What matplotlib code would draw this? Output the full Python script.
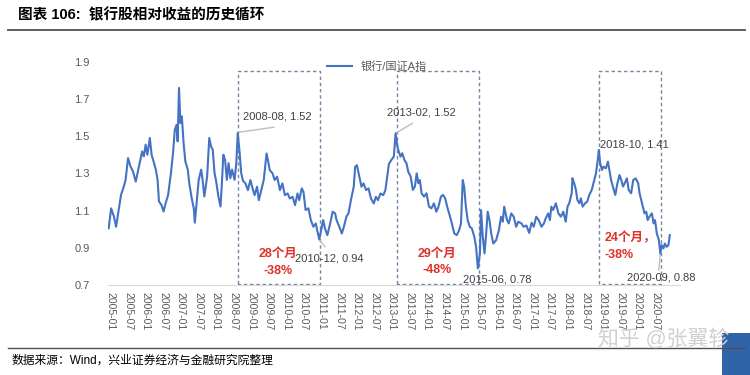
import matplotlib.pyplot as plt
import matplotlib.lines as mlines
import matplotlib.patches as mpatches

plt.rcParams['font.family'] = ['Liberation Sans', 'Noto Sans CJK SC']

# bank index / CSI A-share index (decimal year, ratio)
year = [2004.95, 2005.02, 2005.10, 2005.16, 2005.24, 2005.30, 2005.38, 2005.43, 2005.50, 2005.57,
        2005.64, 2005.72, 2005.78, 2005.86, 2005.90, 2005.95, 2006.00, 2006.05, 2006.12, 2006.17,
        2006.24, 2006.29, 2006.34, 2006.38, 2006.45, 2006.51, 2006.57, 2006.64, 2006.72, 2006.78,
        2006.83, 2006.88, 2006.91, 2006.95, 2006.99, 2007.03, 2007.08, 2007.13, 2007.20, 2007.24,
        2007.31, 2007.37, 2007.40, 2007.45, 2007.51, 2007.58, 2007.62, 2007.67, 2007.75, 2007.81,
        2007.86, 2007.91, 2007.96, 2008.00, 2008.07, 2008.13, 2008.17, 2008.21, 2008.26, 2008.31,
        2008.36, 2008.41, 2008.46, 2008.53, 2008.58, 2008.62, 2008.67, 2008.72, 2008.77, 2008.84,
        2008.91, 2008.98, 2009.03, 2009.10, 2009.17, 2009.22, 2009.29, 2009.36, 2009.44, 2009.48,
        2009.53, 2009.61, 2009.67, 2009.74, 2009.82, 2009.89, 2009.96, 2010.04, 2010.10, 2010.18,
        2010.25, 2010.32, 2010.37, 2010.44, 2010.49, 2010.55, 2010.63, 2010.70, 2010.77, 2010.84,
        2010.90, 2010.94, 2011.01, 2011.05, 2011.10, 2011.17, 2011.25, 2011.32, 2011.39, 2011.43,
        2011.51, 2011.58, 2011.64, 2011.71, 2011.77, 2011.84, 2011.92, 2011.96, 2012.01, 2012.08,
        2012.14, 2012.20, 2012.27, 2012.34, 2012.41, 2012.49, 2012.55, 2012.61, 2012.68, 2012.76,
        2012.82, 2012.87, 2012.92, 2012.99, 2013.06, 2013.11, 2013.16, 2013.20, 2013.25, 2013.30,
        2013.36, 2013.42, 2013.47, 2013.54, 2013.60, 2013.66, 2013.71, 2013.76, 2013.80, 2013.85,
        2013.92, 2013.99, 2014.06, 2014.13, 2014.20, 2014.27, 2014.33, 2014.40, 2014.46, 2014.52,
        2014.59, 2014.66, 2014.71, 2014.78, 2014.85, 2014.92, 2014.97, 2015.02, 2015.06, 2015.11,
        2015.16, 2015.22, 2015.28, 2015.35, 2015.40, 2015.45, 2015.51, 2015.54, 2015.59, 2015.64,
        2015.68, 2015.73, 2015.78, 2015.83, 2015.89, 2015.97, 2016.05, 2016.11, 2016.16, 2016.20,
        2016.28, 2016.33, 2016.40, 2016.47, 2016.54, 2016.60, 2016.69, 2016.75, 2016.83, 2016.91,
        2016.98, 2017.04, 2017.11, 2017.18, 2017.26, 2017.33, 2017.38, 2017.45, 2017.50, 2017.54,
        2017.59, 2017.67, 2017.74, 2017.81, 2017.88, 2017.95, 2018.00, 2018.05, 2018.12, 2018.14,
        2018.19, 2018.24, 2018.28, 2018.34, 2018.38, 2018.43, 2018.50, 2018.56, 2018.62, 2018.69,
        2018.75, 2018.81, 2018.86, 2018.89, 2018.93, 2018.98, 2019.02, 2019.09, 2019.15, 2019.19,
        2019.24, 2019.29, 2019.36, 2019.42, 2019.48, 2019.53, 2019.58, 2019.65, 2019.69, 2019.74,
        2019.81, 2019.87, 2019.94, 2020.01, 2020.05, 2020.12, 2020.19, 2020.24, 2020.28, 2020.33,
        2020.40, 2020.45, 2020.49, 2020.54, 2020.60, 2020.64, 2020.68, 2020.73, 2020.77, 2020.82,
        2020.87, 2020.91]
ratio = [1.005, 1.112, 1.067, 1.013, 1.112, 1.184, 1.229, 1.265, 1.382, 1.337,
         1.310, 1.256, 1.310, 1.382, 1.418, 1.391, 1.454, 1.400, 1.490, 1.400,
         1.355, 1.320, 1.265, 1.149, 1.130, 1.095, 1.140, 1.184, 1.301, 1.409,
         1.534, 1.561, 1.472, 1.759, 1.570, 1.606, 1.463, 1.364, 1.320, 1.248,
         1.167, 1.112, 1.035, 1.140, 1.265, 1.320, 1.265, 1.176, 1.283, 1.490,
         1.445, 1.427, 1.301, 1.265, 1.176, 1.122, 1.248, 1.400, 1.373, 1.265,
         1.355, 1.274, 1.320, 1.265, 1.355, 1.516, 1.420, 1.300, 1.260, 1.246,
         1.210, 1.264, 1.228, 1.183, 1.228, 1.156, 1.210, 1.264, 1.407, 1.371,
         1.318, 1.300, 1.264, 1.282, 1.210, 1.246, 1.183, 1.192, 1.165, 1.174,
         1.129, 1.192, 1.156, 1.219, 1.201, 1.103, 1.112, 1.049, 1.013, 1.031,
         0.977, 0.945, 1.013, 1.049, 1.004, 0.968, 1.031, 1.094, 1.085, 1.049,
         1.013, 0.977, 1.013, 1.067, 1.085, 1.156, 1.228, 1.335, 1.344, 1.282,
         1.228, 1.246, 1.210, 1.219, 1.165, 1.138, 1.174, 1.156, 1.192, 1.183,
         1.210, 1.282, 1.350, 1.372, 1.390, 1.515, 1.444, 1.417, 1.390, 1.408,
         1.372, 1.354, 1.309, 1.282, 1.211, 1.229, 1.300, 1.247, 1.264, 1.193,
         1.175, 1.193, 1.121, 1.112, 1.139, 1.094, 1.121, 1.175, 1.184, 1.166,
         1.112, 1.067, 1.031, 0.977, 0.968, 0.995, 1.031, 1.264, 1.229, 1.121,
         1.049, 1.013, 1.004, 0.959, 0.905, 0.789, 0.870, 1.103, 0.959, 0.870,
         0.959, 1.094, 1.049, 0.977, 0.923, 0.941, 0.995, 1.067, 1.040, 1.121,
         1.049, 1.031, 1.085, 1.067, 1.013, 1.040, 1.031, 1.013, 1.020, 0.980,
         1.035, 1.013, 1.067, 1.049, 1.013, 1.031, 1.058, 1.085, 1.049, 1.121,
         1.103, 1.139, 1.085, 1.067, 1.094, 1.040, 1.121, 1.139, 1.193, 1.274,
         1.247, 1.211, 1.157, 1.139, 1.166, 1.121, 1.139, 1.148, 1.184, 1.211,
         1.256, 1.300, 1.372, 1.426, 1.354, 1.318, 1.336, 1.327, 1.363, 1.318,
         1.264, 1.229, 1.184, 1.247, 1.291, 1.264, 1.229, 1.256, 1.273, 1.211,
         1.193, 1.264, 1.273, 1.247, 1.193, 1.139, 1.085, 1.094, 1.049, 1.067,
         1.085, 1.031, 1.049, 0.977, 0.941, 0.870, 0.914, 0.897, 0.923, 0.905,
         0.914, 0.968]

xtick_labels = ['2005-01', '2005-07', '2006-01', '2006-07', '2007-01', '2007-07', '2008-01', '2008-07',
                '2009-01', '2009-07', '2010-01', '2010-07', '2011-01', '2011-07', '2012-01', '2012-07',
                '2013-01', '2013-07', '2014-01', '2014-07', '2015-01', '2015-07', '2016-01', '2016-07',
                '2017-01', '2017-07', '2018-01', '2018-07', '2019-01', '2019-07', '2020-01', '2020-07']
xtick_pos = [int(s[:4]) + (int(s[5:]) - 1) / 12 for s in xtick_labels]
yticks = [0.7, 0.9, 1.1, 1.3, 1.5, 1.7, 1.9]

# down cycles: peak -> trough
peak_year = [2008.62, 2013.16, 2018.90]
trough_year = [2010.96, 2015.47, 2020.67]
box_top = 1.85
cycle_text = ['28个月\n-38%', '29个月\n-48%', '24个月，\n-38%']

blue = '#4472C4'
grey = '#595959'
box_col = '#7588a3'

fig = plt.figure(figsize=(7.5, 3.75), dpi=100)
ax = fig.add_axes([108/750, 1 - 285/375, 572/750, 223.3/375])

ax.plot(year, ratio, color=blue, lw=1.5, label='银行/国证A指', zorder=3)

for x0, x1 in zip(peak_year, trough_year):
    ax.plot([x0, x0, x1, x1, x0], [0.705, box_top, box_top, 0.705, 0.705],
            color=box_col, lw=1, ls=(0, (2.5, 2)), zorder=2)

# peak / trough labels
ax.text(2008.76, 1.603, '2008-08, 1.52', fontsize=8, color='#404040', va='center')
ax.plot([2008.62, 2009.65], [1.52, 1.548], color='#bfbfbf', lw=1)
ax.text(2010.25, 0.845, '2010-12, 0.94', fontsize=8, color='#404040', va='center')
ax.plot([2010.94, 2011.10], [0.945, 0.906], color='#bfbfbf', lw=1)
ax.text(2012.87, 1.626, '2013-02, 1.52', fontsize=8, color='#404040', va='center')
ax.plot([2013.11, 2013.59], [1.515, 1.569], color='#bfbfbf', lw=1)
ax.text(2015.02, 0.727, '2015-06, 0.78', fontsize=8, color='#404040', va='center')
ax.text(2018.92, 1.456, '2018-10, 1.41', fontsize=8, color='#404040', va='center')
ax.text(2019.69, 0.739, '2020-09, 0.88', fontsize=8, color='#404040', va='center')
ax.plot([2020.64, 2020.60], [0.87, 0.78], color='#bfbfbf', lw=1)

ax.text(2009.76, 0.82, cycle_text[0], fontsize=9, color='#e0302a', fontweight='bold',
        ha='center', va='center', linespacing=1.5)
ax.text(2014.28, 0.825, cycle_text[1], fontsize=9, color='#e0302a', fontweight='bold',
        ha='center', va='center', linespacing=1.5)
ax.text(2019.06, 0.905, cycle_text[2], fontsize=9, color='#e0302a', fontweight='bold',
        ha='left', va='center', linespacing=1.5)

ax.set_xlim(2004.93, 2021.2)
ax.set_ylim(0.7, 1.9)
ax.set_xticks(xtick_pos)
ax.set_xticklabels(xtick_labels, rotation=270, fontsize=7.5, color=grey)
ax.set_yticks(yticks)
ax.set_yticklabels(['%.1f' % v for v in yticks], fontsize=8, color=grey)
ax.tick_params(axis='both', length=0)
ax.tick_params(axis='y', pad=13)
ax.tick_params(axis='x', pad=5)
for s in ['top', 'right', 'left']:
    ax.spines[s].set_visible(False)
ax.spines['bottom'].set_color('#d9d9d9')

ax.legend(loc='upper center', bbox_to_anchor=(0.47, 1.045), frameon=False, fontsize=8,
          handlelength=2.2, labelcolor=grey)

# title, rules and source
fig.text(18/750, 1 - 15/375, '图表 106:  银行股相对收益的历史循环', fontsize=10.5,
         fontweight='bold', va='center')
fig.add_artist(mlines.Line2D([8/750, 745/750], [1 - 30/375] * 2, color='#505050', lw=1.3))
fig.add_artist(mlines.Line2D([8/750, 745/750], [1 - 348/375] * 2, color='#505050', lw=1))
fig.text(12/750, 1 - 361/375, '数据来源：Wind，兴业证券经济与金融研究院整理', fontsize=8.5, va='center')

# watermark
fig.text(598/750, 1 - 338/375, '知乎 @张翼轸', fontsize=15, color='#d0d0d0', va='center')
fig.add_artist(mpatches.Rectangle((722/750, 0), 28/750, 42/375, color='#3064a8', lw=0))

plt.savefig('out.png', dpi=100)
